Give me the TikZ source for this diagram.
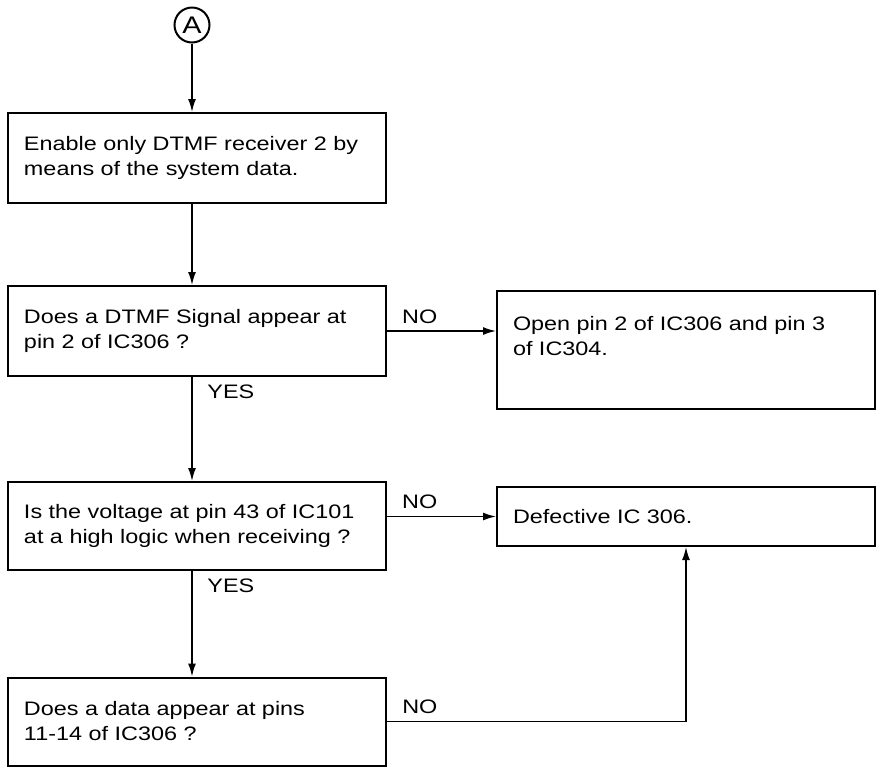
\documentclass[tikz,border=0pt]{standalone}
\usepackage{fontspec}
\setmainfont{Liberation Sans}[FakeStretch=1.2]
\usetikzlibrary{arrows.meta}

\begin{document}
\begin{tikzpicture}[x=0.5pt, y=-0.5pt, thick, >={Latex[length=6.5pt,width=4pt]},
	box/.style={rectangle, draw, line width=1pt, text width=173pt, inner xsep=8pt, align=left, minimum height=45pt, font=\fontsize{9.75}{12.5}\selectfont},
	tall box/.style={box, minimum height=59pt, execute at end node={\endgraf\vspace*{14pt}}},
	flat box/.style={box, minimum height=29.5pt},
	start node/.style={circle, draw, line width=1pt, inner sep=0pt, minimum size=17.5pt, font=\fontsize{12}{14}\selectfont}]
	\useasboundingbox (0,0) rectangle (880,778);
	\node[start node] (A) at (192,25) {A};
	\node[box] (enable) at (197,158) {Enable only DTMF receiver 2 by\\means of the system data.};
	\node[box] (signal) at (197,331) {Does a DTMF Signal appear at\\pin 2 of IC306 ?};
	\node[tall box] (open) at (686,350) {Open pin 2 of IC306 and pin 3\\of IC304.};
	\node[box, minimum height=44pt] (volt) at (197,526) {Is the voltage at pin 43 of IC101\\at a high logic when receiving ?};
	\node[flat box] (defect) at (686,516.5) {Defective IC 306.};
	\node[box, minimum height=44pt] (data) at (197,721.5) {Does a data appear at pins\\11-14 of IC306 ?};
	\path[->, every node/.style={font=\fontsize{9.75}{12.5}\selectfont}]
		(A) edge (A |- enable.north)
		(enable.south -| A) edge (signal.north -| A)
		(signal.east) edge node [above, pos=0.3] {NO} (signal.east -| open.west)
		(signal.south -| A) edge node [right=4pt, pos=0.14] {YES} (volt.north -| A)
		(volt.east |- defect.west) edge node [above, pos=0.3] {NO} (defect.west)
		(volt.south -| A) edge node [right=4pt, pos=0.14] {YES} (data.north -| A);
	\draw[->] (data.east) -- node [above, pos=0.11, font=\fontsize{9.75}{12.5}\selectfont] {NO} (data.east -| defect.south) -- (defect.south);
\end{tikzpicture}
\end{document}
